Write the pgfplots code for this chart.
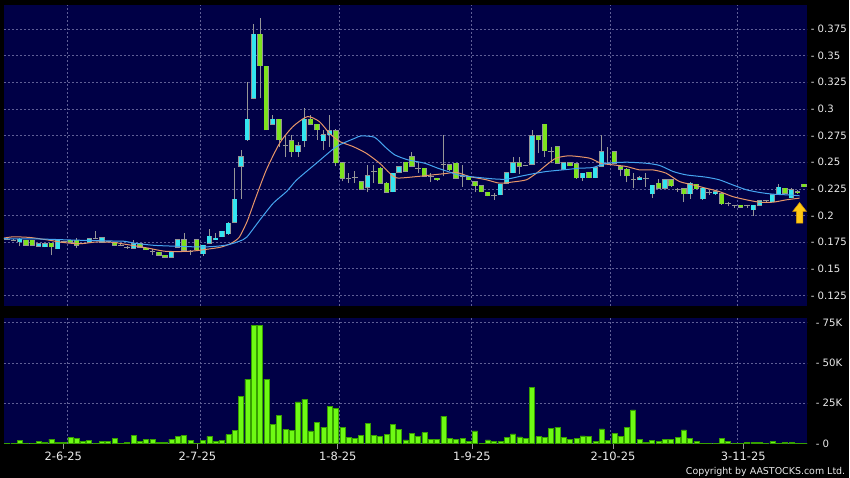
\documentclass[border=0pt]{standalone}
\usepackage{pgfplots}
\pgfplotsset{compat=1.18}
\usepackage{pgfplotstable}
\usepackage{fontspec}
\setmainfont{DejaVu Sans}
\definecolor{navy}{RGB}{0,0,70}
\definecolor{upc}{RGB}{51,229,240}
\definecolor{dnc}{RGB}{125,226,30}
\definecolor{edgec}{RGB}{150,150,150}
\definecolor{gridc}{RGB}{95,95,150}
\definecolor{volf}{RGB}{110,250,20}
\definecolor{vole}{RGB}{55,160,0}
\definecolor{maor}{RGB}{232,150,105}
\definecolor{mabl}{RGB}{70,165,240}
\definecolor{lbl}{RGB}{235,235,235}
\definecolor{arrowc}{RGB}{255,200,20}
\definecolor{arrowe}{RGB}{215,150,0}

\pgfplotstableread{
j o h l c
0 0.178 0.180 0.177 0.178
1 0.177 0.178 0.176 0.177
2 0.1756 0.1785 0.171 0.178
3 0.1766 0.1772 0.172 0.1722
4 0.1766 0.1772 0.172 0.1722
5 0.1713 0.1745 0.1705 0.1735
6 0.1706 0.174 0.170 0.1735
7 0.1738 0.1745 0.1625 0.1706
8 0.1688 0.177 0.1685 0.1766
9 0.1757 0.1765 0.175 0.1757
10 0.1766 0.177 0.1745 0.175
11 0.1766 0.1785 0.1694 0.1722
12 0.1735 0.1745 0.173 0.1735
13 0.175 0.179 0.1745 0.1782
14 0.1782 0.185 0.1775 0.1782
15 0.175 0.1795 0.1745 0.179
16 0.1757 0.1765 0.175 0.1757
17 0.175 0.1755 0.1715 0.1722
18 0.172 0.173 0.171 0.172
19 0.1705 0.1712 0.169 0.1705
20 0.1694 0.1766 0.169 0.1735
21 0.1735 0.174 0.170 0.1703
22 0.1694 0.1697 0.1675 0.168
23 0.1663 0.169 0.1632 0.1663
24 0.1657 0.166 0.162 0.1625
25 0.163 0.1632 0.1605 0.161
26 0.161 0.166 0.1605 0.1657
27 0.1703 0.1778 0.170 0.1772
28 0.1772 0.1835 0.1668 0.1672
29 0.166 0.1675 0.1625 0.166
30 0.1772 0.1778 0.1672 0.1678
31 0.1641 0.1725 0.162 0.1719
32 0.1741 0.1872 0.1735 0.1804
33 0.1772 0.1834 0.177 0.1788
34 0.1803 0.1855 0.180 0.185
35 0.1826 0.1935 0.182 0.1928
36 0.1937 0.2444 0.193 0.2155
37 0.246 0.261 0.2156 0.2553
38 0.271 0.3256 0.270 0.2906
39 0.310 0.380 0.309 0.3703
40 0.3703 0.385 0.310 0.3406
41 0.340 0.3405 0.280 0.2803
42 0.2856 0.2944 0.285 0.2903
43 0.2903 0.2906 0.2647 0.271
44 0.266 0.2756 0.2553 0.266
45 0.2703 0.2756 0.2553 0.260
46 0.260 0.2694 0.2553 0.2653
47 0.2703 0.3006 0.2647 0.2903
48 0.2903 0.294 0.2846 0.2856
49 0.2856 0.286 0.2709 0.2803
50 0.2703 0.2803 0.2613 0.2756
51 0.2756 0.2944 0.2647 0.2797
52 0.2797 0.281 0.246 0.2497
53 0.2497 0.250 0.232 0.235
54 0.235 0.2397 0.2303 0.235
55 0.2356 0.2413 0.2303 0.2356
56 0.2319 0.2325 0.224 0.2247
57 0.2266 0.2475 0.2216 0.2375
58 0.2413 0.2475 0.2303 0.2413
59 0.2444 0.2453 0.2298 0.2303
60 0.2303 0.231 0.2213 0.2219
61 0.2222 0.2403 0.2216 0.2397
62 0.2406 0.2465 0.240 0.2459
63 0.250 0.2506 0.2406 0.2413
64 0.2553 0.260 0.2453 0.246
65 0.2444 0.250 0.2397 0.2444
66 0.2444 0.245 0.236 0.2366
67 0.2366 0.2397 0.231 0.2366
68 0.235 0.2356 0.2325 0.2335
69 0.248 0.2757 0.2366 0.248
70 0.2475 0.248 0.2422 0.2428
71 0.249 0.2497 0.2344 0.235
72 0.2366 0.2475 0.2272 0.2366
73 0.2366 0.237 0.233 0.2335
74 0.2319 0.2325 0.2216 0.2278
75 0.2278 0.2282 0.2216 0.2222
76 0.2219 0.2222 0.218 0.2185
77 0.2185 0.221 0.2147 0.2185
78 0.2194 0.230 0.2188 0.2294
79 0.2303 0.241 0.2297 0.2403
80 0.2403 0.2553 0.2397 0.2497
81 0.2497 0.2553 0.2385 0.246
82 0.2469 0.2475 0.246 0.2469
83 0.2481 0.2803 0.2475 0.275
84 0.275 0.2756 0.2584 0.271
85 0.2856 0.286 0.2553 0.2606
86 0.260 0.2647 0.249 0.260
87 0.2647 0.265 0.2485 0.249
88 0.2435 0.2503 0.243 0.2497
89 0.2497 0.2503 0.246 0.2465
90 0.2487 0.2494 0.2347 0.2353
91 0.2356 0.2403 0.2325 0.2397
92 0.2406 0.2412 0.235 0.2356
93 0.2356 0.2456 0.235 0.245
94 0.246 0.2756 0.2453 0.260
95 0.249 0.2647 0.2485 0.249
96 0.260 0.2606 0.2485 0.249
97 0.2459 0.2465 0.2366 0.2434
98 0.2434 0.2444 0.231 0.2372
99 0.2335 0.2397 0.2256 0.2335
100 0.2335 0.2366 0.233 0.2356
101 0.235 0.2397 0.2272 0.235
102 0.2203 0.2288 0.2163 0.2282
103 0.2303 0.2344 0.225 0.2256
104 0.2256 0.234 0.225 0.2335
105 0.2335 0.234 0.2272 0.2278
106 0.2241 0.2256 0.2225 0.2241
107 0.225 0.2256 0.2125 0.2203
108 0.2203 0.231 0.2156 0.2303
109 0.2294 0.230 0.2244 0.225
110 0.2156 0.2272 0.215 0.2256
111 0.2216 0.2241 0.2194 0.2216
112 0.2203 0.2235 0.2197 0.2225
113 0.2203 0.2209 0.2103 0.211
114 0.2116 0.2125 0.2085 0.2116
115 0.2094 0.2103 0.2075 0.2094
116 0.2094 0.210 0.2072 0.2078
117 0.209 0.2097 0.2072 0.209
118 0.2053 0.210 0.200 0.2094
119 0.2094 0.2144 0.2088 0.2138
120 0.2138 0.2147 0.2128 0.2138
121 0.2131 0.220 0.2125 0.2194
122 0.2203 0.2297 0.2197 0.2263
123 0.2256 0.2262 0.2204 0.221
124 0.2165 0.2256 0.216 0.2241
125 0.2222 0.2235 0.2203 0.2213
126 0.2294 0.230 0.2266 0.2272
}\candles

\pgfplotstableread{
j v
0 200
1 400
2 2000
3 400
4 400
5 1450
6 600
7 2900
8 600
9 1000
10 3700
11 3300
12 1650
13 1850
14 200
15 1250
16 1250
17 3100
18 100
19 800
20 5200
21 1250
22 2700
23 2700
24 600
25 800
26 2900
27 4350
28 5200
29 2100
30 200
31 1850
32 4550
33 1450
34 1850
35 5600
36 8300
37 29400
38 40000
39 73200
40 73400
41 40000
42 11800
43 17400
44 8900
45 8300
46 25900
47 27400
48 7900
49 13100
50 10200
51 23200
52 22000
53 10200
54 3900
55 3300
56 5200
57 12600
58 5200
59 4350
60 5800
61 11800
62 8900
63 2300
64 6400
65 4550
66 6800
67 2900
68 2500
69 17000
70 3300
71 2900
72 3100
73 1250
74 7900
75 200
76 2300
77 1450
78 1450
79 3900
80 6000
81 4150
82 3300
83 34800
84 4350
85 3700
86 9300
87 10200
88 3900
89 2500
90 3100
91 4800
92 4550
93 1250
94 9100
95 1850
96 6400
97 4350
98 10200
99 20900
100 2500
101 1000
102 1850
103 1450
104 2500
105 2500
106 3700
107 8500
108 3100
109 1250
110 200
111 200
112 200
113 3500
114 1650
115 100
116 400
117 600
118 1000
119 1000
120 100
121 1250
122 400
123 600
124 600
125 200
126 100
}\volumes

\pgfplotsset{
  panel/.style={
    scale only axis, width=804bp,
    xmin=-0.474, xmax=126.54,
    axis background/.style={fill=navy},
    axis line style={draw=none},
    grid style={gridc, dash pattern=on 2bp off 2bp, line width=0.6bp},
    ytick pos=right, yticklabel pos=right,
    yticklabel style={font=\fontsize{10.2}{12}\selectfont, text=lbl, anchor=west, inner sep=3.2bp},
  },
  ebar/.style={only marks, mark=*, mark size=0pt,
    mark options={draw opacity=0, fill opacity=0},
    error bars/.cd, y dir=plus, y explicit, error mark=none,
    error bar style={#1}},
}

\begin{document}
\begin{tikzpicture}
\fill[black] (0,0) rectangle (850bp,478bp);

\begin{axis}[panel,
  at={(4bp,172bp)}, anchor=south west, height=301bp,
  ymin=0.1153, ymax=0.3975,
  xtick={9.5,30.5,52.5,73.4,95.3,115.4}, xticklabels={},
  ytick={0.125,0.15,0.175,0.2,0.225,0.25,0.275,0.3,0.325,0.35,0.375},
  yticklabels={- 0.125,- 0.15,- 0.175,- 0.2,- 0.225,- 0.25,- 0.275,- 0.3,- 0.325,- 0.35,- 0.375},
  major tick length=0pt, grid=major,
]
% wicks
\addplot[ebar={edgec, line width=0.9bp}] table[x=j, y=l, y error expr={\thisrow{h}-\thisrow{l}}] {\candles};
% body outlines
\addplot[ebar={edgec, line width=5.4bp}] table[x=j, y expr={min(\thisrow{o},\thisrow{c})-0.0004}, y error expr={abs(\thisrow{c}-\thisrow{o})+0.0008}] {\candles};
% up bodies
\addplot[restrict expr to domain={\thisrow{c}-\thisrow{o}}{0.00001:1}, ebar={upc, line width=4bp}] table[x=j, y=o, y error expr={\thisrow{c}-\thisrow{o}}] {\candles};
% down bodies
\addplot[restrict expr to domain={\thisrow{o}-\thisrow{c}}{0.00001:1}, ebar={dnc, line width=4bp}] table[x=j, y=c, y error expr={\thisrow{o}-\thisrow{c}}] {\candles};

% moving averages
\addplot[maor, line width=1bp, smooth, tension=0.4] coordinates {
(-0.5,0.1788) (1,0.1800) (3.6,0.1794) (6.3,0.1772) (8.9,0.1747) (11.5,0.1735) (14.2,0.1752) (16.8,0.1748) (18.6,0.1731) (20.2,0.1716) (22.3,0.1694) (24.9,0.1665) (27.5,0.1662) (29.6,0.1668) (31.7,0.1684) (33.8,0.1703) (35.3,0.1735) (36.7,0.1795) (38,0.1950) (39.2,0.2147) (41,0.2428) (43.1,0.2678) (45.2,0.2834) (47.5,0.2928) (49.4,0.2880) (51,0.2770) (52.6,0.2694) (54.7,0.2647) (56.8,0.2584) (58.9,0.2491) (60.5,0.2397) (61.6,0.2352) (64.2,0.2362) (66.8,0.2378) (69.5,0.2395) (71,0.2405) (73.1,0.2366) (75.8,0.2335) (77.9,0.2303) (80,0.2315) (82.1,0.2335) (83.7,0.2397) (85.3,0.2475) (86.8,0.2538) (88.9,0.2560) (92.1,0.2538) (93.9,0.2490) (95.8,0.2475) (97.9,0.2460) (100,0.2428) (102.1,0.2428) (104.2,0.2397) (106.3,0.2319) (108.4,0.2288) (110.5,0.2256) (112.6,0.2225) (114.7,0.2178) (116.9,0.2147) (119,0.2125) (121.1,0.2125) (123.2,0.2147) (125.3,0.2163)
};
\addplot[mabl, line width=1bp, smooth, tension=0.4] coordinates {
(-0.5,0.1782) (4.9,0.1780) (10.2,0.1770) (15.4,0.1762) (18.6,0.1758) (20.2,0.1740) (23.3,0.1720) (27.5,0.1710) (30.7,0.1705) (32.8,0.1710) (34.9,0.1725) (36.7,0.1758) (37.9,0.1797) (40,0.1960) (42.1,0.2116) (44.2,0.2225) (45.8,0.2334) (48.9,0.2490) (52.1,0.2647) (55,0.2725) (56,0.2747) (58.1,0.2734) (59.7,0.2647) (61.3,0.2569) (63.4,0.2522) (66,0.2491) (68.1,0.2444) (69.7,0.2413) (71.3,0.2381) (73.1,0.2366) (74.7,0.2356) (76.8,0.2344) (78.9,0.2340) (81,0.2366) (83.1,0.2391) (85.3,0.2413) (88.9,0.2434) (90.5,0.2444) (92.6,0.2450) (94.7,0.2490) (97.9,0.2500) (101.1,0.2490) (103.2,0.2469) (105.3,0.2413) (107.4,0.2381) (110.5,0.2360) (112.6,0.2335) (114.7,0.2288) (116.9,0.2241) (119,0.2216) (121.1,0.2200) (123.2,0.2194) (125.3,0.2185)
};
% indicator arrow
\filldraw[fill=arrowc, draw=arrowe, line width=0.5bp] (axis cs:125.3,0.2122) -- (axis cs:126.4,0.2038) -- (axis cs:125.8,0.2038) -- (axis cs:125.8,0.1929) -- (axis cs:124.8,0.1929) -- (axis cs:124.8,0.2038) -- (axis cs:124.2,0.2038) -- cycle;
\end{axis}

\begin{axis}[panel,
  at={(4bp,34bp)}, anchor=south west, height=126bp,
  ymin=0, ymax=77900,
  xtick={8.9,30.1,52.3,73.5,95.8,116.4},
  xticklabels={2-6-25,2-7-25,1-8-25,1-9-25,2-10-25,3-11-25},
  xtick pos=bottom, tick align=outside,
  xtick style={draw=edgec, line width=0.8bp},
  ytick style={draw=none},
  major tick length=5bp,
  xticklabel style={font=\fontsize{11.5}{13}\selectfont, text=lbl},
  extra x ticks={9.5,30.5,52.5,73.4,95.3,115.4},
  extra x tick labels={},
  extra x tick style={grid=major, major tick length=0pt},
  ytick={0,25000,50000,75000},
  yticklabels={- 0,- 25K,- 50K,- 75K},
  scaled y ticks=false,
  ymajorgrids,
]
\addplot[ybar, bar width=5bp, bar shift=0pt, fill=volf, draw=vole, line width=0.5bp] table[x=j, y=v] {\volumes};
\end{axis}

\node[anchor=base east, text=lbl, font=\fontsize{9.5}{11}\selectfont, inner sep=0pt] at (846bp,3bp) {Copyright by AASTOCKS.com Ltd.};
\end{tikzpicture}
\end{document}
